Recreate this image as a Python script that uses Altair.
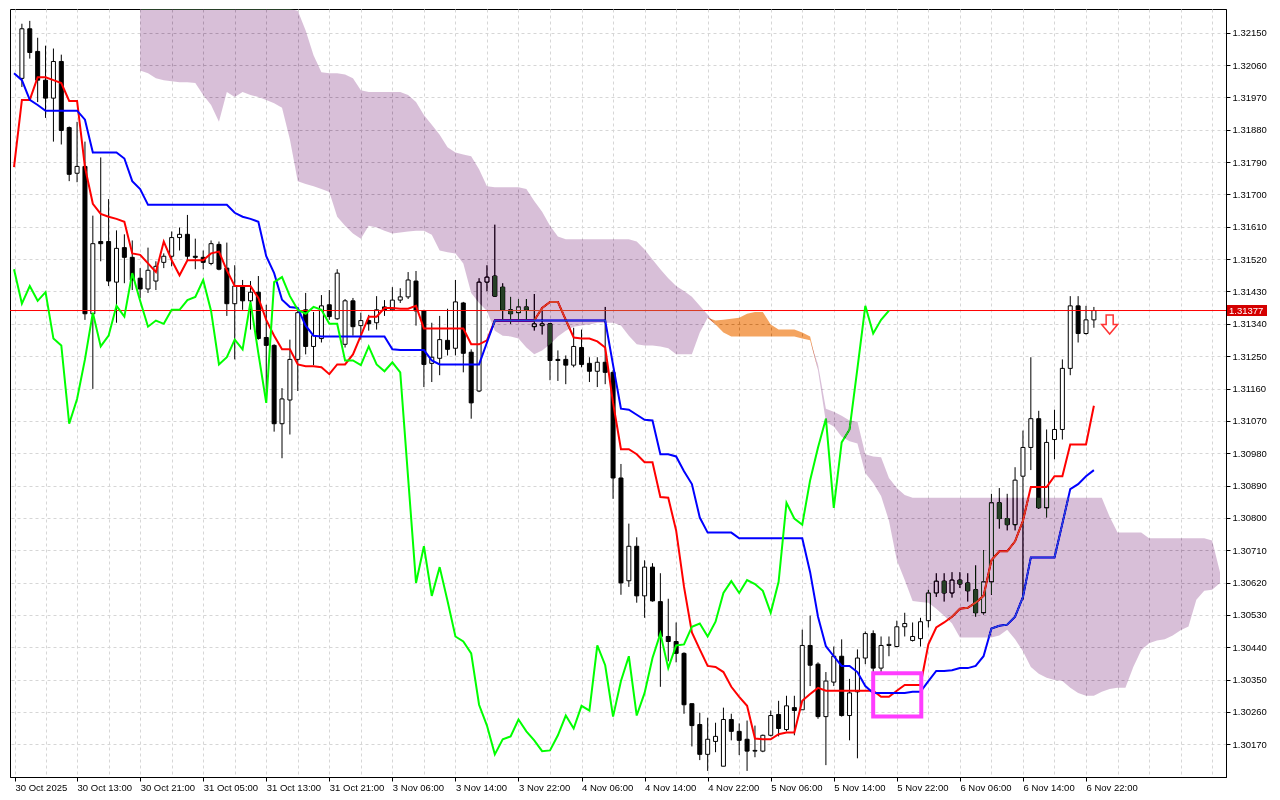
import altair as alt
import pandas as pd

# ---------------- data (H1 candles, index 0 = 30 Oct 06:00) ----------------
TIME_LABELS = ["30 Oct 2025", "30 Oct 13:00", "30 Oct 21:00", "31 Oct 05:00", "31 Oct 13:00",
               "31 Oct 21:00", "3 Nov 06:00", "3 Nov 14:00", "3 Nov 22:00", "4 Nov 06:00",
               "4 Nov 14:00", "4 Nov 22:00", "5 Nov 06:00", "5 Nov 14:00", "5 Nov 22:00",
               "6 Nov 06:00", "6 Nov 14:00", "6 Nov 22:00"]

Y_TICKS = [1.30170, 1.30260, 1.30350, 1.30440, 1.30530, 1.30620, 1.30710, 1.30800, 1.30890,
           1.30980, 1.31070, 1.31160, 1.31250, 1.31340, 1.31430, 1.31520, 1.31610, 1.31700,
           1.31790, 1.31880, 1.31970, 1.32060, 1.32150]

OPEN = [
    1.32023, 1.32161, 1.32098, 1.32018, 1.31968, 1.32070, 1.31886, 1.31759, 1.31778, 1.31368,
    1.31569, 1.31569, 1.31456, 1.31552, 1.31525, 1.31467, 1.31437, 1.31459, 1.31511, 1.31528,
    1.31580, 1.31589, 1.31528, 1.31525, 1.31508, 1.31561, 1.31495, 1.31396, 1.31445, 1.31404,
    1.31428, 1.31302, 1.31280, 1.31062, 1.31128, 1.31241, 1.31379, 1.31277, 1.31299, 1.31393,
    1.31354, 1.31283, 1.31404, 1.31335, 1.31349, 1.31343, 1.31387, 1.31379, 1.31406, 1.31415,
    1.31459, 1.31376, 1.31230, 1.31244, 1.31294, 1.31272, 1.31398, 1.31261, 1.31153, 1.31456,
    1.31473, 1.31442, 1.31379, 1.31371, 1.31387, 1.31332, 1.31335, 1.31340, 1.31241, 1.31241,
    1.31225, 1.31274, 1.31230, 1.31208, 1.31233, 1.31205, 1.30911, 1.30625, 1.30721, 1.30583,
    1.30663, 1.30567, 1.30470, 1.30456, 1.30423, 1.30283, 1.30225, 1.30142, 1.30178, 1.30109,
    1.30239, 1.30206, 1.30184, 1.30151, 1.30151, 1.30195, 1.30253, 1.30211, 1.30272, 1.30266,
    1.30445, 1.30393, 1.30247, 1.30343, 1.30415, 1.30250, 1.30316, 1.30410, 1.30478, 1.30382,
    1.30445, 1.30442, 1.30497, 1.30459, 1.30464, 1.30514, 1.30591, 1.30624, 1.30591, 1.30627,
    1.30619, 1.30600, 1.30536, 1.30622, 1.30842, 1.30798, 1.30781, 1.30916, 1.30996, 1.31076,
    1.30828, 1.31018, 1.31046, 1.31216, 1.31390, 1.31313, 1.31351]

HIGH = [
    1.32175, 1.32183, 1.32136, 1.32114, 1.32106, 1.32089, 1.31889, 1.31902, 1.31847, 1.31641,
    1.31803, 1.31687, 1.31600, 1.31589, 1.31572, 1.31495, 1.31552, 1.31514, 1.31536, 1.31597,
    1.31608, 1.31643, 1.31577, 1.31544, 1.31572, 1.31569, 1.31566, 1.31503, 1.31462, 1.31459,
    1.31473, 1.31393, 1.31283, 1.31161, 1.31296, 1.31384, 1.31426, 1.31373, 1.31420, 1.31434,
    1.31492, 1.31409, 1.31412, 1.31371, 1.31365, 1.31417, 1.31406, 1.31442, 1.31439, 1.31484,
    1.31487, 1.31379, 1.31343, 1.31362, 1.31382, 1.31462, 1.31401, 1.31269, 1.31467, 1.31503,
    1.31616, 1.31453, 1.31415, 1.31409, 1.31409, 1.31423, 1.31379, 1.31340, 1.31266, 1.31252,
    1.31329, 1.31324, 1.31247, 1.31247, 1.31387, 1.31211, 1.30950, 1.30784, 1.30746, 1.30682,
    1.30674, 1.30646, 1.30575, 1.30509, 1.30426, 1.30283, 1.30258, 1.30244, 1.30230, 1.30272,
    1.30255, 1.30228, 1.30236, 1.30222, 1.30197, 1.30264, 1.30291, 1.30305, 1.30305, 1.30489,
    1.30528, 1.30398, 1.30371, 1.30442, 1.30462, 1.30352, 1.30434, 1.30484, 1.30487, 1.30470,
    1.30470, 1.30514, 1.30536, 1.30509, 1.30522, 1.30600, 1.30646, 1.30646, 1.30649, 1.30649,
    1.30646, 1.30668, 1.30710, 1.30867, 1.30883, 1.30867, 1.30941, 1.31043, 1.31247, 1.31098,
    1.31046, 1.31101, 1.31241, 1.31417, 1.31417, 1.31390, 1.31387]

LOW = [
    1.31999, 1.32078, 1.31957, 1.31913, 1.31847, 1.31839, 1.31737, 1.31734, 1.31351, 1.31159,
    1.31514, 1.31445, 1.31343, 1.31453, 1.31434, 1.31412, 1.31426, 1.31434, 1.31495, 1.31500,
    1.31544, 1.31517, 1.31492, 1.31492, 1.31503, 1.31489, 1.31362, 1.31241, 1.31379, 1.31324,
    1.31296, 1.31123, 1.31040, 1.30966, 1.31032, 1.31153, 1.31255, 1.31225, 1.31288, 1.31351,
    1.31351, 1.31274, 1.31307, 1.31296, 1.31321, 1.31324, 1.31362, 1.31376, 1.31398, 1.31409,
    1.31335, 1.31164, 1.31178, 1.31197, 1.31252, 1.31252, 1.31205, 1.31076, 1.31150, 1.31431,
    1.31415, 1.31349, 1.31340, 1.31351, 1.31351, 1.31321, 1.31310, 1.31183, 1.31181, 1.31172,
    1.31219, 1.31219, 1.31178, 1.31164, 1.31172, 1.30853, 1.30586, 1.30608, 1.30564, 1.30522,
    1.30567, 1.30330, 1.30401, 1.30398, 1.30255, 1.30164, 1.30126, 1.30096, 1.30148, 1.30109,
    1.30181, 1.30140, 1.30096, 1.30134, 1.30148, 1.30192, 1.30192, 1.30206, 1.30195, 1.30266,
    1.30332, 1.30241, 1.30112, 1.30332, 1.30247, 1.30181, 1.30131, 1.30393, 1.30371, 1.30371,
    1.30415, 1.30440, 1.30470, 1.30456, 1.30442, 1.30495, 1.30580, 1.30567, 1.30578, 1.30605,
    1.30567, 1.30525, 1.30531, 1.30586, 1.30770, 1.30765, 1.30765, 1.30572, 1.30933, 1.30825,
    1.30801, 1.30963, 1.31018, 1.31197, 1.31288, 1.31310, 1.31329]

CLOSE = [
    1.32161, 1.32095, 1.32018, 1.31968, 1.32070, 1.31878, 1.31756, 1.31778, 1.31368, 1.31563,
    1.31563, 1.31459, 1.31550, 1.31525, 1.31462, 1.31437, 1.31489, 1.31500, 1.31528, 1.31580,
    1.31589, 1.31528, 1.31525, 1.31511, 1.31563, 1.31492, 1.31396, 1.31445, 1.31404, 1.31428,
    1.31299, 1.31280, 1.31062, 1.31131, 1.31241, 1.31371, 1.31277, 1.31307, 1.31390, 1.31360,
    1.31481, 1.31404, 1.31332, 1.31349, 1.31340, 1.31379, 1.31379, 1.31406, 1.31415, 1.31462,
    1.31376, 1.31227, 1.31247, 1.31296, 1.31269, 1.31401, 1.31258, 1.31120, 1.31456, 1.31470,
    1.31417, 1.31379, 1.31368, 1.31387, 1.31379, 1.31340, 1.31340, 1.31238, 1.31238, 1.31225,
    1.31277, 1.31227, 1.31208, 1.31233, 1.31205, 1.30911, 1.30619, 1.30721, 1.30583, 1.30663,
    1.30569, 1.30470, 1.30456, 1.30423, 1.30280, 1.30222, 1.30142, 1.30184, 1.30192, 1.30239,
    1.30206, 1.30181, 1.30151, 1.30153, 1.30195, 1.30250, 1.30214, 1.30277, 1.30264, 1.30445,
    1.30390, 1.30247, 1.30346, 1.30415, 1.30250, 1.30313, 1.30410, 1.30478, 1.30382, 1.30445,
    1.30448, 1.30497, 1.30506, 1.30470, 1.30511, 1.30591, 1.30624, 1.30591, 1.30627, 1.30616,
    1.30597, 1.30536, 1.30622, 1.30842, 1.30798, 1.30781, 1.30905, 1.30996, 1.31076, 1.30828,
    1.31010, 1.31046, 1.31216, 1.31390, 1.31313, 1.31351, 1.31377]

# Tenkan-sen (red) and Kijun-sen (blue), starting at bar -1
TENKAN = [
    1.31776, 1.31963, 1.31963, 1.32026, 1.32026, 1.32018, 1.32010, 1.31960, 1.31960, 1.31776,
    1.31674, 1.31646, 1.31638, 1.31632, 1.31624, 1.31536, 1.31532, 1.31508, 1.31484, 1.31569,
    1.31517, 1.31475, 1.31517, 1.31517, 1.31517, 1.31536, 1.31541, 1.31489, 1.31445, 1.31445,
    1.31445, 1.31412, 1.31351, 1.31307, 1.31269, 1.31269, 1.31227, 1.31222, 1.31222, 1.31219,
    1.31200, 1.31227, 1.31227, 1.31255, 1.31307, 1.31360, 1.31360, 1.31384, 1.31384, 1.31382,
    1.31382, 1.31390, 1.31327, 1.31327, 1.31327, 1.31327, 1.31327, 1.31327, 1.31283, 1.31283,
    1.31294, 1.31349, 1.31349, 1.31349, 1.31349, 1.31349, 1.31349, 1.31384, 1.31401, 1.31401,
    1.31351, 1.31302, 1.31299, 1.31299, 1.31291, 1.31274, 1.31120, 1.30991, 1.30991, 1.30977,
    1.30955, 1.30955, 1.30858, 1.30856, 1.30765, 1.30608, 1.30481, 1.30434, 1.30388, 1.30385,
    1.30371, 1.30330, 1.30302, 1.30277, 1.30186, 1.30184, 1.30184, 1.30198, 1.30203, 1.30203,
    1.30291, 1.30310, 1.30327, 1.30319, 1.30319, 1.30319, 1.30319, 1.30319, 1.30319, 1.30319,
    1.30302, 1.30302, 1.30319, 1.30335, 1.30335, 1.30335, 1.30448, 1.30495, 1.30509, 1.30525,
    1.30547, 1.30550, 1.30564, 1.30583, 1.30682, 1.30707, 1.30707, 1.30735, 1.30792, 1.30886,
    1.30886, 1.30886, 1.30916, 1.30916, 1.31004, 1.31004, 1.31004, 1.31112]

KIJUN = [
    1.32037, 1.32018, 1.31963, 1.31949, 1.31933, 1.31933, 1.31933, 1.31933, 1.31933, 1.31908,
    1.31817, 1.31817, 1.31817, 1.31817, 1.31800, 1.31737, 1.31715, 1.31671, 1.31671, 1.31671,
    1.31671, 1.31671, 1.31671, 1.31671, 1.31671, 1.31671, 1.31671, 1.31671, 1.31649, 1.31638,
    1.31632, 1.31624, 1.31528, 1.31481, 1.31407, 1.31387, 1.31384, 1.31335, 1.31307, 1.31305,
    1.31305, 1.31305, 1.31305, 1.31305, 1.31305, 1.31305, 1.31305, 1.31305, 1.31269, 1.31267,
    1.31267, 1.31267, 1.31267, 1.31238, 1.31227, 1.31227, 1.31227, 1.31227, 1.31227, 1.31227,
    1.31288, 1.31349, 1.31349, 1.31349, 1.31349, 1.31349, 1.31349, 1.31349, 1.31349, 1.31349,
    1.31349, 1.31349, 1.31349, 1.31349, 1.31349, 1.31349, 1.31225, 1.31104, 1.31101, 1.31087,
    1.31073, 1.31071, 1.30977, 1.30977, 1.30971, 1.30930, 1.30894, 1.30801, 1.30759, 1.30759,
    1.30759, 1.30759, 1.30743, 1.30743, 1.30743, 1.30743, 1.30743, 1.30743, 1.30743, 1.30743,
    1.30743, 1.30649, 1.30525, 1.30443, 1.30415, 1.30388, 1.30388, 1.30371, 1.30332, 1.30313,
    1.30313, 1.30313, 1.30313, 1.30313, 1.30316, 1.30316, 1.30346, 1.30374, 1.30374, 1.30376,
    1.30382, 1.30382, 1.30388, 1.30415, 1.30492, 1.30500, 1.30503, 1.30525, 1.30580, 1.30690,
    1.30690, 1.30690, 1.30690, 1.30784, 1.30880, 1.30894, 1.30916, 1.30933]

# Chikou span (lime), starting at bar -1
CHIKOU = [
    1.31492, 1.31396, 1.31445, 1.31404, 1.31428,
    1.31299, 1.31280, 1.31062, 1.31131, 1.31241, 1.31371, 1.31277, 1.31307, 1.31390, 1.31360,
    1.31481, 1.31404, 1.31332, 1.31349, 1.31340, 1.31379, 1.31379, 1.31406, 1.31415, 1.31462,
    1.31376, 1.31227, 1.31247, 1.31296, 1.31269, 1.31401, 1.31258, 1.31120, 1.31456, 1.31470,
    1.31417, 1.31379, 1.31368, 1.31387, 1.31379, 1.31340, 1.31340, 1.31238, 1.31238, 1.31225,
    1.31277, 1.31227, 1.31208, 1.31233, 1.31205, 1.30911, 1.30619, 1.30721, 1.30583, 1.30663,
    1.30569, 1.30470, 1.30456, 1.30423, 1.30280, 1.30222, 1.30142, 1.30184, 1.30192, 1.30239,
    1.30206, 1.30181, 1.30151, 1.30153, 1.30195, 1.30250, 1.30214, 1.30277, 1.30264, 1.30445,
    1.30390, 1.30247, 1.30346, 1.30415, 1.30250, 1.30313, 1.30410, 1.30478, 1.30382, 1.30445,
    1.30448, 1.30497, 1.30506, 1.30470, 1.30511, 1.30591, 1.30624, 1.30591, 1.30627, 1.30616,
    1.30597, 1.30536, 1.30622, 1.30842, 1.30798, 1.30781, 1.30905, 1.30996, 1.31076, 1.30828,
    1.31010, 1.31046, 1.31216, 1.31390, 1.31313, 1.31351, 1.31377]

# Senkou spans A and B (cloud), starting at bar 15
SPAN_A = [
    1.32045, 1.32037, 1.32023, 1.32018, 1.32015, 1.32012, 1.32012, 1.32010, 1.31977, 1.31949,
    1.31902, 1.31985, 1.31971, 1.31985, 1.31977, 1.31971, 1.31963, 1.31954, 1.31941, 1.31853,
    1.31737, 1.31729, 1.31723, 1.31715, 1.31707, 1.31638, 1.31613, 1.31591, 1.31577, 1.31613,
    1.31608, 1.31599, 1.31591, 1.31594, 1.31597, 1.31599, 1.31599, 1.31588, 1.31544, 1.31539,
    1.31536, 1.31508, 1.31426, 1.31398, 1.31376, 1.31321, 1.31307, 1.31305, 1.31299, 1.31274,
    1.31255, 1.31266, 1.31283, 1.31305, 1.31321, 1.31332, 1.31335, 1.31338, 1.31343, 1.31343,
    1.31343, 1.31335, 1.31307, 1.31283, 1.31280, 1.31280, 1.31277, 1.31272, 1.31255, 1.31255,
    1.31255, 1.31316, 1.31357, 1.31349, 1.31351, 1.31354, 1.31357, 1.31368, 1.31373, 1.31373,
    1.31338, 1.31324, 1.31324, 1.31324, 1.31316, 1.31305, 1.31211, 1.31067, 1.31054, 1.31026,
    1.31013, 1.31007, 1.30925, 1.30897, 1.30861, 1.30792, 1.30682, 1.30627, 1.30569, 1.30566,
    1.30564, 1.30547, 1.30528, 1.30506, 1.30467, 1.30467, 1.30467, 1.30467, 1.30467, 1.30473,
    1.30489, 1.30462, 1.30429, 1.30385, 1.30366, 1.30355, 1.30349, 1.30346, 1.30327, 1.30313,
    1.30305, 1.30305, 1.30316, 1.30324, 1.30327, 1.30327, 1.30385, 1.30432, 1.30451, 1.30459,
    1.30462, 1.30473, 1.30487, 1.30498, 1.30572, 1.30597, 1.30600, 1.30619]

SPAN_B = [
    1.32260, 1.32260, 1.32260, 1.32260, 1.32260, 1.32260, 1.32260, 1.32260, 1.32260, 1.32260,
    1.32260, 1.32260, 1.32260, 1.32260, 1.32260, 1.32260, 1.32260, 1.32260, 1.32260, 1.32260,
    1.32211, 1.32156, 1.32087, 1.32040, 1.32037, 1.32037, 1.32034, 1.32023, 1.31990, 1.31985,
    1.31985, 1.31985, 1.31985, 1.31985, 1.31977, 1.31957, 1.31921, 1.31894, 1.31866, 1.31831,
    1.31817, 1.31811, 1.31806, 1.31770, 1.31723, 1.31720, 1.31720, 1.31720, 1.31720, 1.31715,
    1.31682, 1.31652, 1.31613, 1.31583, 1.31575, 1.31575, 1.31575, 1.31575, 1.31575, 1.31575,
    1.31575, 1.31575, 1.31575, 1.31569, 1.31547, 1.31519, 1.31492, 1.31467, 1.31445, 1.31431,
    1.31415, 1.31390, 1.31365, 1.31338, 1.31316, 1.31305, 1.31305, 1.31305, 1.31305, 1.31305,
    1.31305, 1.31305, 1.31305, 1.31305, 1.31299, 1.31294, 1.31227, 1.31104, 1.31095, 1.31084,
    1.31071, 1.31068, 1.30977, 1.30971, 1.30969, 1.30911, 1.30883, 1.30864, 1.30856, 1.30856,
    1.30856, 1.30856, 1.30856, 1.30856, 1.30856, 1.30856, 1.30856, 1.30856, 1.30856, 1.30856,
    1.30856, 1.30856, 1.30856, 1.30856, 1.30856, 1.30856, 1.30856, 1.30856, 1.30856, 1.30856,
    1.30856, 1.30856, 1.30856, 1.30803, 1.30759, 1.30759, 1.30759, 1.30759, 1.30743, 1.30743,
    1.30743, 1.30743, 1.30743, 1.30743, 1.30743, 1.30743, 1.30737, 1.30649]

CURRENT_PRICE = 1.31377
SIGNAL_BAR = [138.0]
SIGNAL_PRICE = [1.31338]
BOX_BARS = [108.0, 114.1]
BOX_PRICES = [1.30368, 1.30247]

# ---------------- layout ----------------
W, H = 1216, 768
FONT = "Liberation Sans"

xs = alt.Scale(domain=[-0.875, 152.125], nice=False, zero=False)
ys = alt.Scale(domain=[1.30079, 1.32216], nice=False, zero=False, clamp=True)

x_grid = [-0.875] + list(range(3, 152, 4))
arr = "[" + ",".join("'%s'" % s for s in TIME_LABELS) + "]"
label_expr = ("datum.value < 0 ? '%s' : ((datum.value + 1) %% 8 == 0 && datum.value <= 136 ? "
              "%s[(datum.value + 1) / 8] : '')" % (TIME_LABELS[0], arr))

x_axis = alt.Axis(orient="bottom", values=x_grid, labelExpr=label_expr, title=None, grid=True,
                  labelAlign="left", labelFlush=False, labelOverlap=False, tickSize=4,
                  labelPadding=1, labelBound=False,
                  tickOpacity={"condition": {"test": "datum.value < 0 || ((datum.value + 1) % 8 == 0 && datum.value <= 136)",
                                             "value": 1}, "value": 0})
y_axis = alt.Axis(orient="right", values=Y_TICKS, format=".5f", title=None, grid=True,
                  tickSize=4, labelPadding=2, labelOverlap=False)


def X(field):
    return alt.X(field, type="quantitative", scale=xs, axis=x_axis)


def Y(field):
    return alt.Y(field, type="quantitative", scale=ys, axis=y_axis)


candles = pd.DataFrame({"i": list(range(len(OPEN))), "open": OPEN, "high": HIGH,
                        "low": LOW, "close": CLOSE})

wicks = alt.Chart(candles).mark_rule(color="black", strokeWidth=1, clip=True).encode(
    x=X("i"), y=Y("low"), y2="high")
bodies = alt.Chart(candles).mark_bar(size=4, stroke="black", strokeWidth=1, clip=True).encode(
    x=X("i"), y=Y("open"), y2="close",
    fill=alt.condition("datum.close >= datum.open", alt.value("white"), alt.value("black")),
)


def line_layer(values, start, color):
    df = pd.DataFrame({"i": list(range(start, start + len(values))), "v": values})
    return alt.Chart(df).mark_line(color=color, strokeWidth=2, clip=True).encode(
        x=X("i"), y=Y("v"))


tenkan = line_layer(TENKAN, -1, "#ff0000")
kijun = line_layer(KIJUN, -1, "#0000ff")
chikou = line_layer(CHIKOU, -1, "#00ff00")

price_df = pd.DataFrame({"p": [CURRENT_PRICE], "t": ["%.5f" % CURRENT_PRICE]})
price_rule = alt.Chart(price_df).mark_rule(color="#ff0000", strokeWidth=1).encode(y=Y("p"))

cloud = pd.DataFrame({"i": list(range(15, 15 + len(SPAN_A))), "a": SPAN_A, "b": SPAN_B})
# thistle / sandy-brown cloud painted with "difference" blending (MT4-like look over candles)
cloud_bear = alt.Chart(cloud).transform_calculate(lo="min(datum.a, datum.b)").mark_area(
    color="#274027", blend="difference", opacity=1).encode(x=X("i"), y=Y("b"), y2="lo:Q")
cloud_bull = alt.Chart(cloud).transform_calculate(lo="min(datum.a, datum.b)").mark_area(
    color="#0b5b9f", blend="difference", opacity=1).encode(x=X("i"), y=Y("a"), y2="lo:Q")

box_df = pd.DataFrame({"x0": [BOX_BARS[0]], "x1": [BOX_BARS[1]],
                       "p0": [BOX_PRICES[0]], "p1": [BOX_PRICES[1]]})
box = alt.Chart(box_df).mark_rect(fillOpacity=0, stroke="#ff3cff", strokeWidth=4).encode(
    x=X("x0"), x2="x1:Q", y=Y("p0"), y2="p1:Q")

arrow_df = pd.DataFrame({"i": SIGNAL_BAR, "p": SIGNAL_PRICE})
arrow = alt.Chart(arrow_df).mark_point(
    shape="M-0.37,-1L0.37,-1L0.37,0L0.84,0L0,1L-0.84,0L-0.37,0Z", size=361,
    filled=True, fill="white", stroke="#ff3333", strokeWidth=1.5, opacity=1).encode(
    x=X("i"), y=Y("p"))

price_box = alt.Chart(price_df).mark_point(
    shape="M-1,-0.28L1,-0.28L1,0.28L-1,0.28Z", size=1600, filled=True,
    fill="#d40000", strokeWidth=0, opacity=1).encode(x=alt.value(W + 21), y=Y("p"))
price_text = alt.Chart(price_df).mark_text(
    align="left", baseline="middle", color="white", font=FONT, fontSize=9.5).encode(
    x=alt.value(W + 3), y=Y("p"), text="t:N")

chart = alt.layer(
    wicks, bodies, price_rule, tenkan, kijun, chikou,
    cloud_bear, cloud_bull, box, arrow, price_box, price_text,
).properties(
    width=W, height=H, background="white",
    padding={"left": 1, "top": 1, "right": 2, "bottom": 2},
).configure_view(
    stroke="black", strokeWidth=1,
).configure_axis(
    domainColor="black", tickColor="black", labelColor="black",
    labelFont=FONT, labelFontSize=9.5,
    gridColor="#d6d6d6", gridDash=[3, 3], gridWidth=1,
)

chart.save("out.html", embed_options={"renderer": "svg", "actions": False})
